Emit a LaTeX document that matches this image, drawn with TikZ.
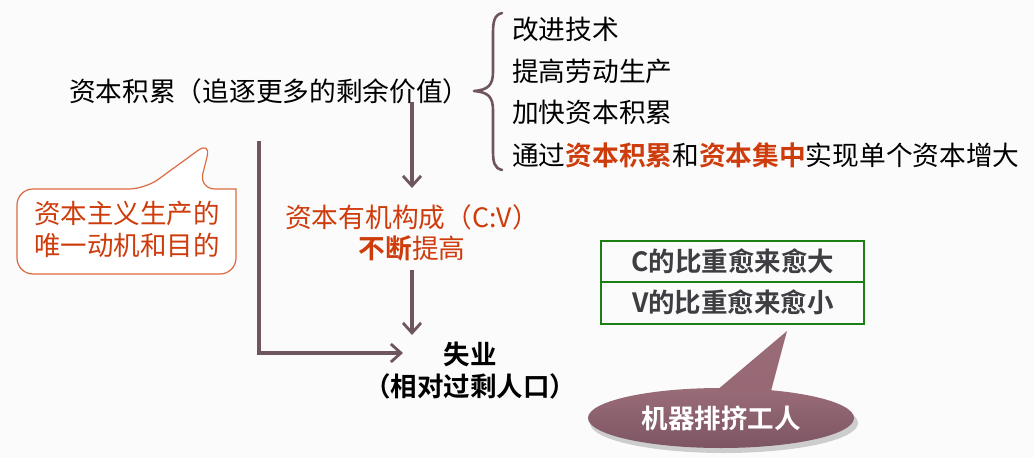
\documentclass[tikz,border=0pt]{standalone}
\usepackage{fontspec}
\setmainfont{Noto Sans CJK SC}[BoldFont={Noto Sans CJK SC Bold}]
\usetikzlibrary{arrows.meta,shapes.geometric,shadows}
\definecolor{bgc}{HTML}{FBFBFB}
\definecolor{mauve}{HTML}{6E5560}
\definecolor{hot}{HTML}{CF3C0C}
\definecolor{calloutedge}{HTML}{DC6A40}
\definecolor{tablegreen}{HTML}{1C7F12}
\definecolor{tabletext}{HTML}{3E3E42}
\definecolor{blobtop}{HTML}{9A6C78}
\definecolor{blobbot}{HTML}{7D5563}
\tikzset{
  txt/.style={inner sep=0pt, font=\fontsize{26.7}{31}\selectfont},
  flow/.style={draw=mauve, line width=3.2pt, -{Straight Barb[length=10pt,width=18pt,line width=2.8pt]}},
}
\begin{document}
\begin{tikzpicture}[x=1pt,y=-1pt]
\fill[bgc] (0,0) rectangle (1034,458);
\useasboundingbox (0,0) rectangle (1034,458);

% main chain
\node[txt, anchor=west] (acc) at (69,91) {资本积累（追逐更多的剩余价值）};
\node[txt, text=hot, align=center] (occ) at (412,233) {资本有机构成（C:V）\\\textbf{不断}提高};
\node[txt, align=center, font=\fontsize{26.5}{32}\selectfont\bfseries] (unemp) at (470,371) {失业\\（相对过剩人口）};

\coordinate (a1) at (412,102);
\coordinate (a2) at (412,188);
\coordinate (b1) at (412,270);
\coordinate (b2) at (412,335);
\draw[flow] (a1) -- (a2);
\draw[flow] (b1) -- (b2);
\coordinate (l0) at (259,141);
\coordinate (l1) at (259,353);
\coordinate (l2) at (403,353);
\draw[flow] (l0) -- (l1) -- (l2);

% brace with its four effects
\draw[mauve, line width=2.6pt, line cap=round]
  (502,13) .. controls (494,15) and (493,22) .. (493,34)
  -- (493,72) .. controls (493,85) and (488,90) .. (474,91)
  (474,91) .. controls (488,92) and (493,97) .. (493,110)
  -- (493,150) .. controls (493,162) and (494,168) .. (502,170);
\node[txt, anchor=west] (e1) at (512,29) {改进技术};
\node[txt, anchor=west] (e2) at (512,71) {提高劳动生产};
\node[txt, anchor=west] (e3) at (512,112) {加快资本积累};
\node[txt, anchor=west] (e4) at (512,155) {通过\textcolor{hot}{\textbf{资本积累}}和\textcolor{hot}{\textbf{资本集中}}实现单个资本增大};

% speech bubble: motive
\draw[calloutedge, fill=white, line width=1.2pt, rounded corners=16pt]
  (145,189) -- (211,141) -- (199,189) [sharp corners] -- (236,189) [rounded corners=16pt]
  -- (236,274) -- (17,274) -- (17,189) -- cycle;
\node[txt, text=hot, align=center, font=\fontsize{26.5}{32}\selectfont] (motive) at (127,229) {资本主义生产的\\唯一动机和目的};

% composition table
\draw[tablegreen, line width=2.6pt] (601,241) rectangle (864,324);
\draw[tablegreen, line width=2.6pt] (601,282) -- (864,282);
\node[txt, text=tabletext, font=\fontsize{26.5}{30}\selectfont\bfseries] (crow) at (733,261) {C的比重愈来愈大};
\node[txt, text=tabletext, font=\fontsize{26.5}{30}\selectfont\bfseries] (vrow) at (733,302) {V的比重愈来愈小};

% oval callout: machines displace workers
\begin{scope}
\fill[black, opacity=0.18] (724,423) ellipse [x radius=134, y radius=30];
\shade[top color=blobtop, bottom color=blobbot]
  (721,418) ellipse [x radius=133, y radius=30];
\shade[top color=blobtop, bottom color=blobtop!85!blobbot]
  (716,391) -- (787,331) -- (771,391) -- cycle;
\end{scope}
\node[txt, text=white, font=\fontsize{26.5}{30}\selectfont\bfseries] (machine) at (721,418) {机器排挤工人};
\end{tikzpicture}
\end{document}
